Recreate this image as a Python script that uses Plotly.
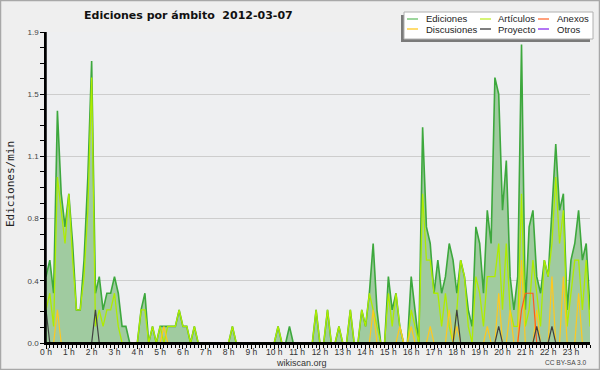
import plotly.graph_objects as go

# 10-minute bins, 144 points (00:00 .. 23:50)
hour_labels = [f"{h} h" for h in range(24)]

ediciones = [0.4,0.5,0.3,1.4,0.9,0.7,0.9,0.6,0.2,0.2,0.5,1.0,1.7,0.3,0.4,0.2,0.3,0.3,0.4,0.3,
             0.1,0.1,0,0,0,0.2,0.3,0,0.1,0,0.1,0.1,0.1,0.1,0.1,0.2,0.1,0.1,0,0.1,
             0,0,0,0,0,0,0,0,0,0.1,0,0,0,0,0,0,0,0,0,0,
             0,0.1,0,0,0.1,0,0,0,0,0,0,0.2,0,0,0.2,0,0,0.1,0,0,
             0.2,0,0,0.2,0.1,0.3,0.6,0.2,0,0,0.4,0.2,0.3,0.1,0,0,0.4,0.2,0,1.3,
             0.7,0.6,0.3,0.5,0.3,0.4,0.6,0.5,0.3,0.5,0.4,0.2,0.1,0.7,0.6,0.3,0.8,0.6,1.6,1.5,
             0.8,1.1,0.4,0.2,0.4,1.8,0.2,0.7,0.8,0.4,0.3,0.5,0.4,0.8,1.2,0.8,0.9,0.2,0.5,0.6,
             0.8,0.5,0.6,0.2]
articulos = [0.2,0.3,0.1,1.0,0.8,0.6,0.9,0.5,0.2,0.2,0.4,0.8,1.6,0.1,0.2,0.1,0.2,0.2,0.3,0.1,
             0,0,0,0,0,0.2,0.2,0,0.1,0,0.1,0,0.1,0.1,0.1,0.2,0.1,0.1,0,0.1,
             0,0,0,0,0,0,0,0,0,0.1,0,0,0,0,0,0,0,0,0,0,
             0,0.1,0,0,0,0,0,0,0,0,0,0.2,0,0,0.2,0,0,0.1,0,0,
             0.2,0,0,0.2,0.1,0.3,0.2,0.1,0,0,0.3,0.1,0.3,0.1,0,0,0.2,0.1,0,0.9,
             0.5,0.5,0.3,0.3,0.1,0.3,0.1,0,0.2,0.5,0.4,0.1,0,0.4,0.3,0.1,0.4,0.4,0.4,0.6,
             0.2,0.6,0.2,0.1,0.1,0.9,0.1,0.2,0.5,0.3,0.1,0.5,0.4,0.6,1.0,0.6,0.8,0.1,0.3,0.5,
             0.5,0.2,0.5,0.1]
discusiones = [0]*144
for i, v in {3:0.2, 31:0.1, 86:0.2, 93:0.1, 96:0.1, 101:0.1, 106:0.2, 108:0.1, 116:0.1,
             119:0.3, 122:0.2, 125:0.5, 129:0.2, 133:0.4, 136:0.4, 140:0.3}.items():
    discusiones[i] = v
proyecto = [0]*144
for i, v in {0:0.2, 13:0.2, 108:0.2, 119:0.1, 129:0.1, 133:0.1}.items():
    proyecto[i] = v
anexos = [0]*144
for i, v in {125:0.2, 126:0.3, 127:0.3, 128:0.3}.items():
    anexos[i] = v
otros = [0]*144

x = list(range(144))

fig = go.Figure()
fig.add_trace(go.Scatter(x=x, y=ediciones, mode="lines", fill="tozeroy",
                         line=dict(color="#3DA83D", width=1.6), fillcolor="#A0CBA0", name="Ediciones"))
fig.add_trace(go.Scatter(x=x, y=articulos, mode="lines", line=dict(color="#AEEC00", width=1.3), name="Artículos"))
fig.add_trace(go.Scatter(x=x, y=discusiones, mode="lines", line=dict(color="#FFC81E", width=1.2), name="Discusiones"))
fig.add_trace(go.Scatter(x=x, y=anexos, mode="lines", line=dict(color="#FF5A1E", width=1.2), name="Anexos"))
fig.add_trace(go.Scatter(x=x, y=proyecto, mode="lines", line=dict(color="#404040", width=1.2), name="Proyecto"))
fig.add_trace(go.Scatter(x=x, y=otros, mode="lines", line=dict(color="#8A3CF0", width=1.2), name="Otros"))

L, R, T, B = 46, 10, 32, 27
W, H = 600, 370
pw, ph = W - L - R, H - T - B
def px(p):
    return (p - L) / pw
def py(q):
    return (H - B - q) / ph

SANS = "Liberation Sans"
fig.update_layout(
    width=W, height=H, margin=dict(l=L, r=R, t=T, b=B),
    paper_bgcolor="#EFEFEF", plot_bgcolor="#EEEFF1", showlegend=False,
    font=dict(family=SANS, color="#333333"),
    xaxis=dict(range=[0, 143], tickmode="array", tickvals=list(range(0, 144, 6)), ticktext=hour_labels,
               showgrid=False, zeroline=False, showline=True, linecolor="black", linewidth=2,
               ticks="outside", ticklen=4, tickcolor="black", tickfont=dict(family=SANS, size=8.5, color="#333333"),
               ticklabelstandoff=-4,
               minor=dict(dtick=1, tick0=0, ticks="outside", ticklen=3, tickcolor="black", showgrid=False)),
    yaxis=dict(range=[0, 1.875], tickmode="array", tickvals=[0, 0.375, 0.75, 1.125, 1.5, 1.875],
               ticktext=["0.0", "0.4", "0.8", "1.1", "1.5", "1.9"],
               showgrid=True, gridcolor="#CDCDCD", gridwidth=1, zeroline=False,
               showline=True, linecolor="black", linewidth=1.5,
               ticks="outside", ticklen=4, tickcolor="black", tickfont=dict(family=SANS, size=8, color="#444444"),
               minor=dict(dtick=0.09375, tick0=0, ticks="outside", ticklen=4, tickcolor="black", showgrid=False)),
)

shapes = []
annotations = []
# axis lines drawn above the traces
shapes.append(dict(type="line", xref="paper", yref="paper", x0=0, x1=1, y0=0, y1=0,
                   line=dict(color="black", width=2), layer="above"))
shapes.append(dict(type="line", xref="paper", yref="paper", x0=0, x1=0, y0=0, y1=1,
                   line=dict(color="black", width=1.5), layer="above"))
# outer border
shapes.append(dict(type="rect", xref="paper", yref="paper", x0=px(0.5), x1=px(599.5), y0=py(369.5), y1=py(0.5),
                   line=dict(color="#A8A8A8", width=1.5), layer="above"))
# legend shadow and box
shapes.append(dict(type="rect", xref="paper", yref="paper", x0=px(401), x1=px(590), y0=py(42), y1=py(15),
                   fillcolor="#7A7A7A", line=dict(width=0), layer="above"))
shapes.append(dict(type="rect", xref="paper", yref="paper", x0=px(404), x1=px(593), y0=py(39), y1=py(12),
                   fillcolor="#FFFFFF", line=dict(color="#B0B0B0", width=1), layer="above"))
legend_items = [
    ("Ediciones", "#7CC87C", 407, 424, 19),
    ("Artículos", "#C8F04A", 480, 496, 19),
    ("Anexos", "#FF8050", 538, 555, 19),
    ("Discusiones", "#FFD040", 407, 424, 29),
    ("Proyecto", "#555555", 480, 496, 29),
    ("Otros", "#9A48F0", 538, 555, 29),
]
for name, col, sx, tx, yy in legend_items:
    shapes.append(dict(type="line", xref="paper", yref="paper", x0=px(sx), x1=px(sx + 11), y0=py(yy), y1=py(yy),
                       line=dict(color=col, width=1.5), layer="above"))
    annotations.append(dict(text=name, xref="paper", yref="paper", x=px(tx), y=py(yy), xanchor="left",
                            yanchor="middle", showarrow=False, font=dict(family=SANS, size=9.5, color="#222222")))

annotations.append(dict(text="<b>Ediciones por ámbito  2012-03-07</b>", xref="paper", yref="paper",
                        x=px(188), y=py(15), xanchor="center", yanchor="middle", showarrow=False,
                        font=dict(family="DejaVu Sans", size=11, color="#111111")))
annotations.append(dict(text="Ediciones/min", xref="paper", yref="paper", x=px(10), y=py(184),
                        xanchor="center", yanchor="middle", textangle=-90, showarrow=False,
                        font=dict(family="DejaVu Sans Mono", size=11, color="#222222")))
annotations.append(dict(text="wikiscan.org", xref="paper", yref="paper", x=px(301), y=py(362.5),
                        xanchor="center", yanchor="middle", showarrow=False, font=dict(family=SANS, size=9, color="#333333")))
annotations.append(dict(text="CC BY-SA 3.0", xref="paper", yref="paper", x=px(589), y=py(362.5),
                        xanchor="right", yanchor="middle", showarrow=False, font=dict(family=SANS, size=6.6, color="#444444")))

fig.update_layout(shapes=shapes, annotations=annotations)
fig.write_html("out.html", config={"displayModeBar": False},
               post_script="document.body.style.margin='0';document.body.style.background='#EFEFEF';")
